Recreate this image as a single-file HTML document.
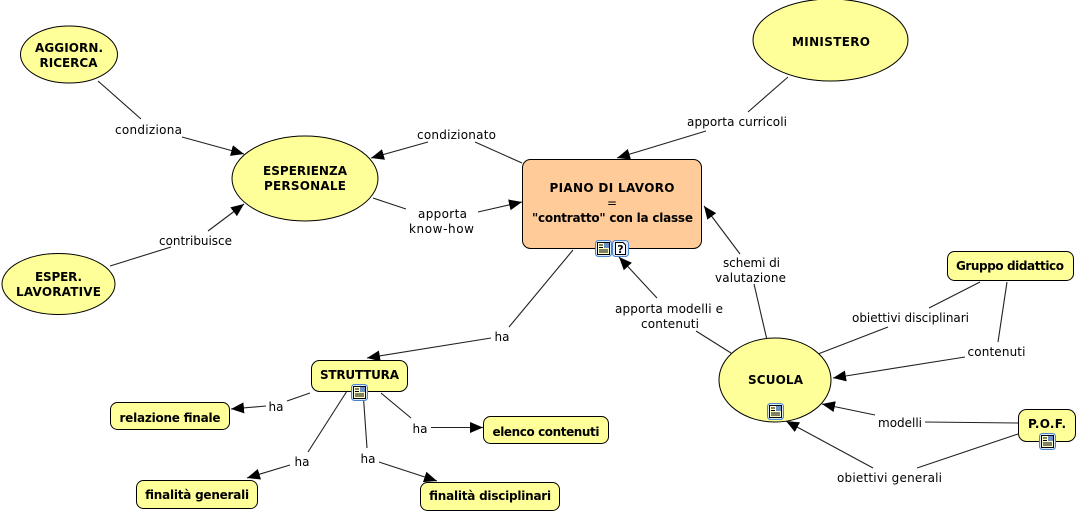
<!DOCTYPE html>
<html>
<head>
<meta charset="utf-8">
<style>
html,body{margin:0;padding:0;background:#fff;width:1077px;height:513px;overflow:hidden}
svg{display:block}
text{font-family:"DejaVu Sans",sans-serif;font-size:12px;text-anchor:middle;fill:#000}
.b{font-weight:bold}
.n{fill:#ffff99;stroke:#000;stroke-width:1}
.l{stroke:#222;stroke-width:1.1;fill:none}
</style>
</head>
<body>
<svg width="1077" height="513" viewBox="0 0 1077 513" xmlns="http://www.w3.org/2000/svg">
<defs>
<marker id="a" markerUnits="userSpaceOnUse" markerWidth="14" markerHeight="12" refX="13" refY="6" orient="auto">
<path d="M0 0.5L13 6L0 11.5Z" fill="#000"/>
</marker>
<g id="doc">
<rect x="0.5" y="0.5" width="16" height="16" rx="3" fill="#dce9f8" stroke="#4a86d0"/>
<rect x="2.5" y="2.5" width="12" height="12" fill="#ffffc8" stroke="#000"/>
<rect x="9" y="3" width="5" height="5" fill="#6a8fc0"/>
<path d="M4 5h4M4 7.5h4M4 10h9M4 12h9" stroke="#000" stroke-width="1"/>
</g>
<g id="q">
<rect x="0.5" y="0.5" width="16" height="16" rx="3" fill="#dce9f8" stroke="#4a86d0"/>
<path d="M3.5 2.5H11L13.5 5V14.5H3.5Z" fill="#fff" stroke="#000"/>
</g>
</defs>

<g class="l">
<path d="M98 81L141 119"/>
<path d="M182 137L244 154" marker-end="url(#a)"/>
<path d="M110 266L171 247"/>
<path d="M208 231L244 204" marker-end="url(#a)"/>
<path d="M522 163L475 142"/>
<path d="M428 142L371 158" marker-end="url(#a)"/>
<path d="M373 198L406 209"/>
<path d="M478 212L522 202" marker-end="url(#a)"/>
<path d="M788 77L748 112"/>
<path d="M706 131L617 158" marker-end="url(#a)"/>
<path d="M573 250L509 327"/>
<path d="M491 338L367 358" marker-end="url(#a)"/>
<path d="M731 353L696 331"/>
<path d="M657 298L619 257" marker-end="url(#a)"/>
<path d="M767 340L754 284"/>
<path d="M740 254L704 206" marker-end="url(#a)"/>
<path d="M818 354L888 327"/>
<path d="M929 308L980 282"/>
<path d="M1007 282L998 342"/>
<path d="M965 357L833 378" marker-end="url(#a)"/>
<path d="M1018 423L925 422"/>
<path d="M875 415L822 404" marker-end="url(#a)"/>
<path d="M1018 434L917 468"/>
<path d="M873 468L786 421" marker-end="url(#a)"/>
<path d="M310 393L287 401"/>
<path d="M266 406L231 409" marker-end="url(#a)"/>
<path d="M347 391L308 452"/>
<path d="M290 465L247 478" marker-end="url(#a)"/>
<path d="M363 391L367 448"/>
<path d="M379 462L437 481" marker-end="url(#a)"/>
<path d="M381 393L411 418"/>
<path d="M431 427.5L483 427.5" marker-end="url(#a)"/>
</g>

<ellipse class="n" cx="69" cy="54.5" rx="48.5" ry="28.5"/>
<ellipse class="n" cx="305" cy="178.5" rx="73" ry="42.5"/>
<ellipse class="n" cx="58.5" cy="284" rx="56.5" ry="30.5"/>
<ellipse class="n" cx="830.5" cy="40" rx="77.5" ry="41"/>
<ellipse class="n" cx="775" cy="380" rx="56" ry="42"/>
<rect x="522.5" y="159.5" width="179" height="89" rx="8" fill="#ffcc99" stroke="#000"/>
<rect class="n" x="311.5" y="360.5" width="96" height="31" rx="8"/>
<rect class="n" x="110.5" y="402.5" width="119" height="27" rx="7"/>
<rect class="n" x="483.5" y="416.5" width="125" height="27" rx="7"/>
<rect class="n" x="136.5" y="480.5" width="121" height="28" rx="7"/>
<rect class="n" x="420.5" y="482.5" width="139" height="28" rx="7"/>
<rect class="n" x="947.5" y="251.5" width="126" height="29" rx="7"/>
<rect class="n" x="1018.5" y="409.5" width="57" height="32" rx="8"/>

<use href="#doc" x="595" y="240"/>
<use href="#q" x="612" y="240"/>
<text x="620.5" y="253" class="b" style="font-size:11px">?</text>
<use href="#doc" x="351" y="384"/>
<use href="#doc" x="767" y="403"/>
<use href="#doc" x="1039" y="433"/>

<text class="b" x="69" y="52" textLength="68">AGGIORN.</text>
<text class="b" x="68.5" y="67" textLength="58">RICERCA</text>
<text class="b" x="305" y="175" textLength="84">ESPERIENZA</text>
<text class="b" x="305" y="190" textLength="82">PERSONALE</text>
<text class="b" x="58.5" y="281" textLength="47">ESPER.</text>
<text class="b" x="58.5" y="296" textLength="85">LAVORATIVE</text>
<text class="b" x="831" y="46" textLength="78">MINISTERO</text>
<text class="b" x="775.5" y="384" textLength="55">SCUOLA</text>
<text class="b" x="612" y="192" textLength="125">PIANO DI LAVORO</text>
<text x="612" y="207">=</text>
<text class="b" x="612.5" y="222" textLength="161">"contratto" con la classe</text>
<text class="b" x="359.5" y="379" textLength="79">STRUTTURA</text>
<text class="b" x="170" y="422" textLength="101">relazione finale</text>
<text class="b" x="546" y="436" textLength="107">elenco contenuti</text>
<text class="b" x="197" y="499" textLength="104">finalità generali</text>
<text class="b" x="490" y="500" textLength="122">finalità disciplinari</text>
<text class="b" x="1010" y="270" textLength="108">Gruppo didattico</text>
<text class="b" x="1047" y="428" textLength="38">P.O.F.</text>

<text x="148.5" y="134" textLength="67">condiziona</text>
<text x="195.5" y="245" textLength="73">contribuisce</text>
<text x="456.5" y="139" textLength="79">condizionato</text>
<text x="442.5" y="218" textLength="49">apporta</text>
<text x="441.5" y="233" textLength="65">know-how</text>
<text x="737" y="126" textLength="100">apporta curricoli</text>
<text x="502" y="341">ha</text>
<text x="669" y="313" textLength="108">apporta modelli e</text>
<text x="670" y="328" textLength="58">contenuti</text>
<text x="751.5" y="267" textLength="57">schemi di</text>
<text x="750.5" y="282" textLength="71">valutazione</text>
<text x="910.5" y="322" textLength="117">obiettivi disciplinari</text>
<text x="996.5" y="356" textLength="58">contenuti</text>
<text x="900" y="427" textLength="44">modelli</text>
<text x="889.5" y="482" textLength="105">obiettivi generali</text>
<text x="276" y="411">ha</text>
<text x="302" y="466">ha</text>
<text x="368" y="463">ha</text>
<text x="420" y="433">ha</text>
</svg>
</body>
</html>
